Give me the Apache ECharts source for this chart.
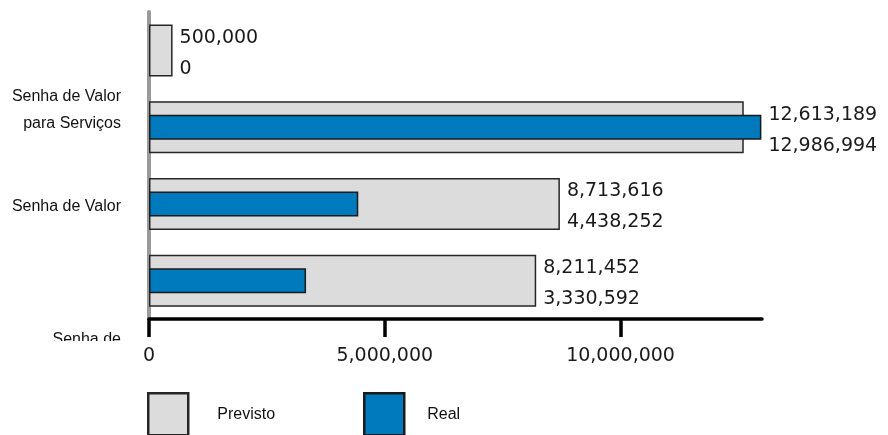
<!DOCTYPE html>
<html><head><meta charset="utf-8">
<script src="https://cdn.jsdelivr.net/npm/echarts@6/dist/echarts.min.js"></script>
<style>html,body{margin:0;padding:0;background:#fff}#c{width:888px;height:435px}</style>
</head><body><div id="c"></div>
<script>
const categories = ['', 'Senha de Valor\npara Serviços', 'Senha de Valor', 'Senha de'];
const previsto = [500000, 12613189, 8713616, 8211452];
const real = [0, 12986994, 4438252, 3330592];
const xTicks = [0, 5000000, 10000000];
const seriesNames = ['Previsto', 'Real'];

const fmt = v => v.toLocaleString('en-US');
const labelStyle = {
  position: 'right', distance: 7, offset: [0, 3],
  fontFamily: 'DejaVu Sans', fontSize: 19, color: '#1a1a1a', lineHeight: 31
};
function items(vals, own) {
  return vals.map((v, i) => {
    const p = previsto[i], r = real[i];
    const show = own === 'p' ? p >= r : r > p;
    const it = { value: v, label: Object.assign({ show, formatter: fmt(p) + '\n' + fmt(r) }, labelStyle) };
    if (v === 0) it.itemStyle = { borderWidth: 0 };
    return it;
  });
}

const chart = echarts.init(document.getElementById('c'), null, { renderer: 'canvas' });
const yBase = { type: 'category', data: categories, inverse: true, gridIndex: 0 };
const legendBase = { itemWidth: 40, itemHeight: 42, icon: 'rect', padding: 0, top: 392,
  itemStyle: { borderWidth: 2.5 } };
chart.setOption({
  animation: false,
  grid: { left: 149, top: 12, right: 126, bottom: 116, containLabel: false },
  xAxis: {
    type: 'value', min: 0, max: 13000000, interval: 5000000,
    splitLine: { show: false },
    axisLine: { show: true, lineStyle: { color: '#000', width: 3.5 } },
    axisTick: { show: true, length: 18, lineStyle: { color: '#000', width: 3.5 }, customValues: xTicks },
    axisLabel: { margin: 28, fontFamily: 'DejaVu Sans', fontSize: 19, color: '#1a1a1a', customValues: xTicks,
      formatter: v => fmt(v) }
  },
  yAxis: [
    Object.assign({}, yBase, {
      axisLine: { show: true, lineStyle: { color: '#9a9a9a', width: 4 } },
      axisTick: { show: false }, axisLabel: { show: false }, splitLine: { show: false }
    }),
    Object.assign({}, yBase, { show: false })
  ],
  legend: [
    Object.assign({}, legendBase, { data: [seriesNames[0]], left: 147,
      textStyle: { fontFamily: 'Liberation Sans', fontSize: 16, color: '#111', padding: [0, 0, 0, 24] } }),
    Object.assign({}, legendBase, { data: [seriesNames[1]], left: 363,
      textStyle: { fontFamily: 'Liberation Sans', fontSize: 16, color: '#111', padding: [0, 0, 0, 18] } })
  ],
  series: [
    { name: seriesNames[0], type: 'bar', yAxisIndex: 0, barWidth: 52, z: 2,
      itemStyle: { color: '#dcdcdc', borderColor: '#262626', borderWidth: 1.5 },
      data: items(previsto, 'p') },
    { name: seriesNames[1], type: 'bar', yAxisIndex: 1, barWidth: 25, z: 3,
      itemStyle: { color: '#0079bd', borderColor: '#1a1a1a', borderWidth: 1.5 },
      data: items(real, 'r') }
  ]
});

// category labels placed through the category axis scale
const catOffsets = [0, -17, 3, 59];
const g = categories.map((c, i) => ({
  type: 'text', z: 10,
  style: {
    text: c, x: 121, y: chart.convertToPixel({ yAxisIndex: 0 }, i) + catOffsets[i],
    align: 'right', verticalAlign: 'middle', font: '16px "Liberation Sans"', fill: '#111', lineHeight: 27
  }
}));
g.push({ type: 'rect', z: 11, shape: { x: 0, y: 341, width: 138, height: 40 }, style: { fill: '#fff' } });
chart.setOption({ graphic: g });
</script></body></html>
